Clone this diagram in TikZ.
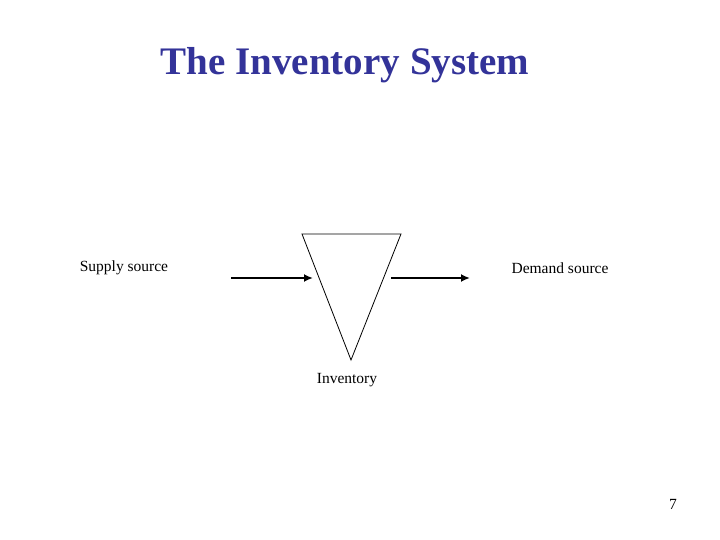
\documentclass[tikz,border=0pt]{standalone}
\usepackage{fontspec}
\setmainfont{Liberation Serif}
\definecolor{TitleBlue}{RGB}{51,51,153}
\usetikzlibrary{positioning, arrows.meta}

\begin{document}
\begin{tikzpicture}[x=1pt, y=-1pt,
  label/.style={font=\fontsize{15.5}{18}\selectfont, inner sep=0pt},
  title/.style={font=\fontsize{39}{44}\selectfont\bfseries, TitleBlue, inner sep=0pt},
  arrow/.style={-{Latex[length=9pt,width=8pt]}, line width=1.8pt}
]
\useasboundingbox[fill=white] (0,0) rectangle (720,540);

\node[title] (title) at (345,65) {The Inventory System};

% inventory triangle
\coordinate (tl) at (302,234);
\coordinate (tr) at (401,234);
\coordinate (bot) at (351,360);
\draw[line width=0.8pt] (tl) -- (tr) -- (bot) -- cycle;

\node[label] (supply) at (124,268) {Supply source};
\node[label] (demand) at (560,268) {Demand source};
\node[label] (inventory) at (347,380) {Inventory};

\coordinate (inL) at (231,278);
\coordinate (inR) at (313,278);
\coordinate (outL) at (391,278);
\coordinate (outR) at (470,278);
\draw[arrow] (inL) -- (inR);
\draw[arrow] (outL) -- (outR);

\node[label] (page) at (673,504) {7};
\end{tikzpicture}
\end{document}
